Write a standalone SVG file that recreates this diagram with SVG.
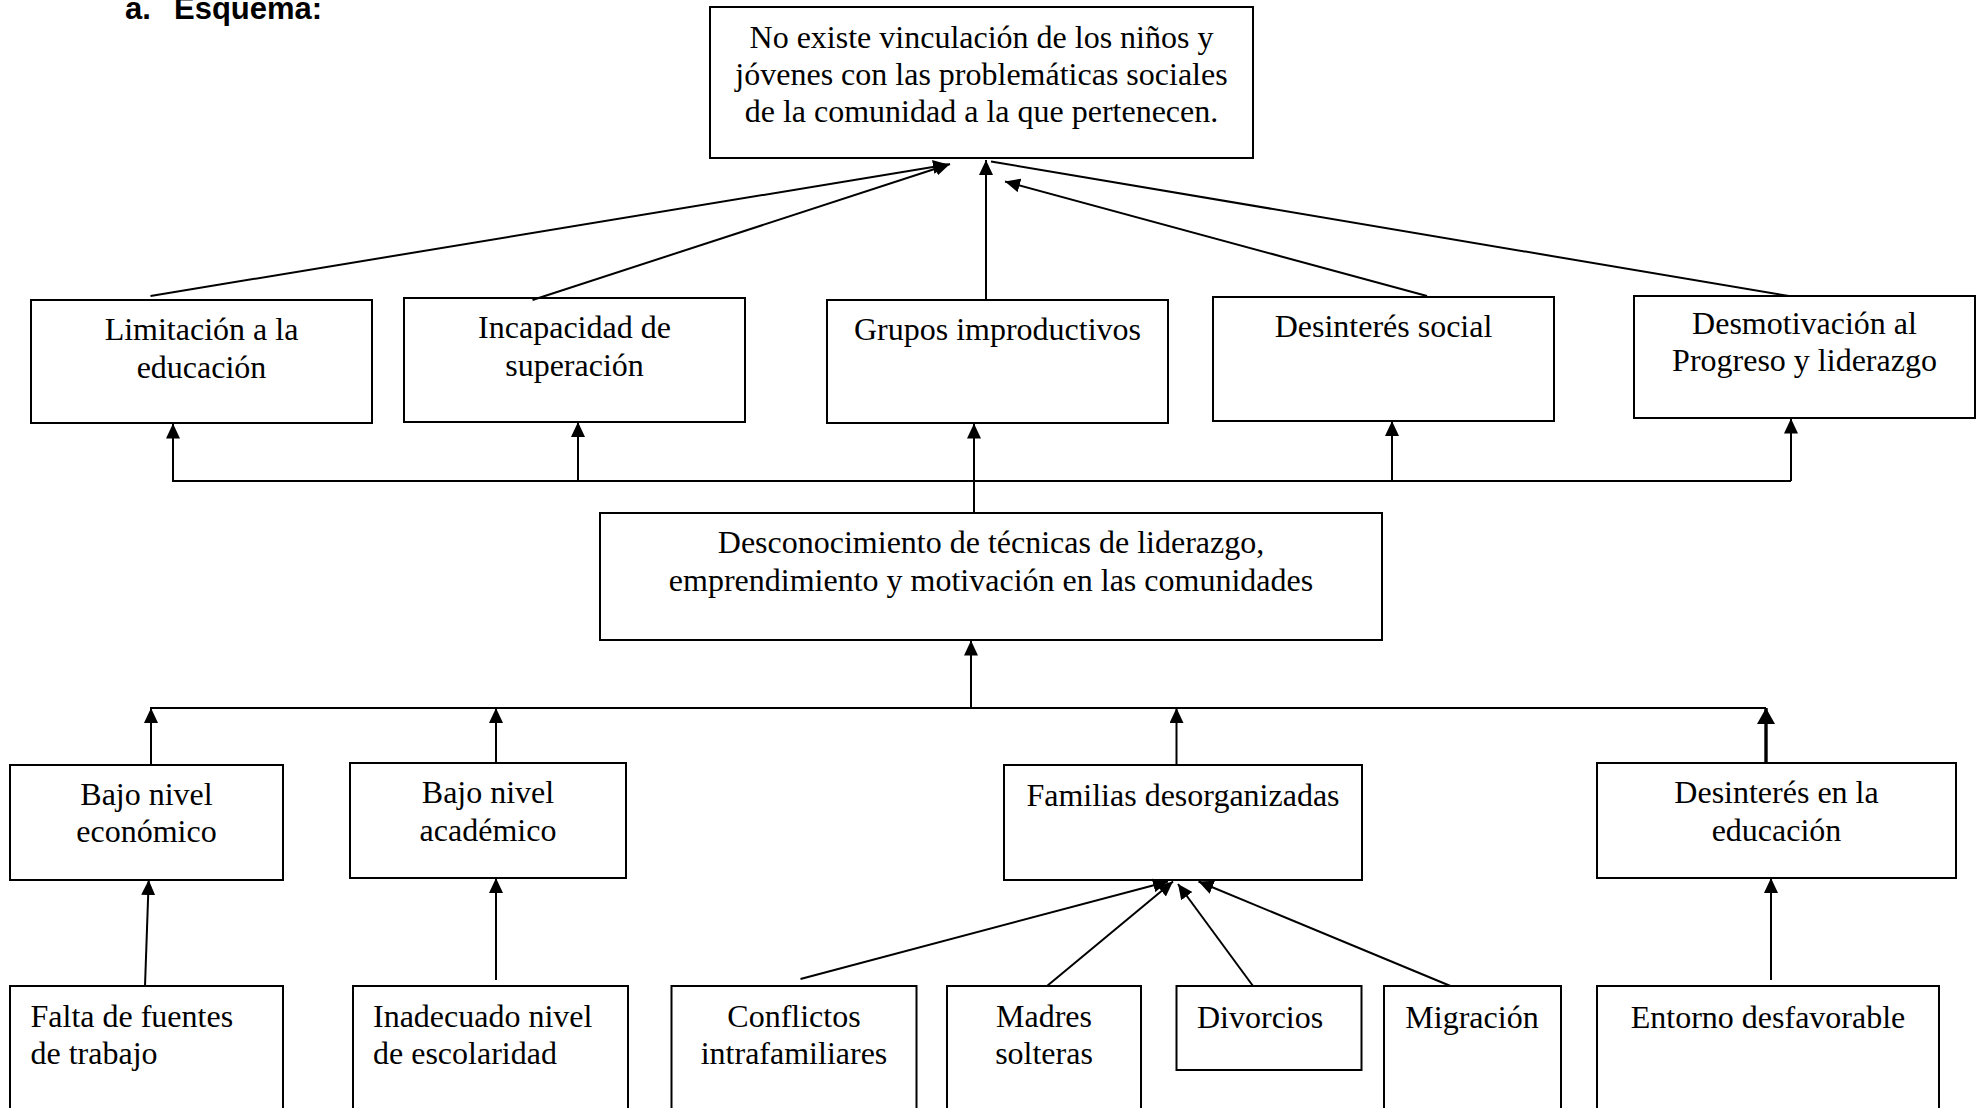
<svg xmlns="http://www.w3.org/2000/svg" width="1988" height="1108" viewBox="0 0 1988 1108">
  <defs>
    <style>
      .box { fill: #fff; stroke: #000; stroke-width: 2; }
      .t { font-family: "Liberation Serif", "Times New Roman", serif; font-size: 32px; fill: #000; }
      .c { text-anchor: middle; }
      .title { font-family: "Liberation Sans", Arial, sans-serif; font-size: 31px; font-weight: bold; fill: #000; }
      .conn { stroke: #000; stroke-width: 2; fill: none; }
      .arrow { marker-end: url(#ah); }
      .thick { stroke-width: 3.4; marker-end: url(#ahL); }
    </style>
    <marker id="ah" markerUnits="userSpaceOnUse" viewBox="0 0 15 14" markerWidth="15" markerHeight="14" refX="15" refY="7" orient="auto">
      <path d="M0,0 L15,7 L0,14 z" fill="#000"/>
    </marker>
    <marker id="ahL" markerUnits="userSpaceOnUse" viewBox="0 0 16 18" markerWidth="16" markerHeight="18" refX="16" refY="9" orient="auto">
      <path d="M0,0 L16,9 L0,18 z" fill="#000"/>
    </marker>
  </defs>
  <rect width="1988" height="1108" fill="#fff"/>

  <text class="title" x="125" y="19">a.<tspan x="174">Esquema:</tspan></text>

  <g id="n-top">
    <rect class="box" x="710" y="7" width="543" height="151"/>
    <text class="t c" x="981.5" y="48">No existe vinculación de los niños y</text>
    <text class="t c" x="981.5" y="85">jóvenes con las problemáticas sociales</text>
    <text class="t c" x="981.5" y="122">de la comunidad a la que pertenecen.</text>
  </g>

  <g id="n-limitacion">
    <rect class="box" x="31" y="300" width="341" height="123"/>
    <text class="t c" x="201.5" y="340">Limitación a la</text>
    <text class="t c" x="201.5" y="378">educación</text>
  </g>
  <g id="n-incapacidad">
    <rect class="box" x="404" y="298" width="341" height="124"/>
    <text class="t c" x="574.5" y="338">Incapacidad de</text>
    <text class="t c" x="574.5" y="376">superación</text>
  </g>
  <g id="n-grupos">
    <rect class="box" x="827" y="300" width="341" height="123"/>
    <text class="t c" x="997.5" y="340">Grupos improductivos</text>
  </g>
  <g id="n-desinteres-social">
    <rect class="box" x="1213" y="297" width="341" height="124"/>
    <text class="t c" x="1383.5" y="337">Desinterés social</text>
  </g>
  <g id="n-desmotivacion">
    <rect class="box" x="1634" y="296" width="341" height="122"/>
    <text class="t c" x="1804.5" y="334">Desmotivación al</text>
    <text class="t c" x="1804.5" y="371">Progreso y liderazgo</text>
  </g>

  <g id="n-desconocimiento">
    <rect class="box" x="600" y="513" width="782" height="127"/>
    <text class="t c" x="991" y="553">Desconocimiento de técnicas de liderazgo,</text>
    <text class="t c" x="991" y="591">emprendimiento y motivación en las comunidades</text>
  </g>

  <g id="n-bajo-economico">
    <rect class="box" x="10" y="765" width="273" height="115"/>
    <text class="t c" x="146.5" y="805">Bajo nivel</text>
    <text class="t c" x="146.5" y="842">económico</text>
  </g>
  <g id="n-bajo-academico">
    <rect class="box" x="350" y="763" width="276" height="115"/>
    <text class="t c" x="488" y="803">Bajo nivel</text>
    <text class="t c" x="488" y="841">académico</text>
  </g>
  <g id="n-familias">
    <rect class="box" x="1004" y="765" width="358" height="115"/>
    <text class="t c" x="1183" y="806">Familias desorganizadas</text>
  </g>
  <g id="n-desinteres-educacion">
    <rect class="box" x="1597" y="763" width="359" height="115"/>
    <text class="t c" x="1776.5" y="803">Desinterés en la</text>
    <text class="t c" x="1776.5" y="841">educación</text>
  </g>

  <g id="n-falta">
    <rect class="box" x="10" y="986" width="273" height="140"/>
    <text class="t" x="30.5" y="1027">Falta de fuentes</text>
    <text class="t" x="30.5" y="1064">de trabajo</text>
  </g>
  <g id="n-inadecuado">
    <rect class="box" x="353" y="986" width="275" height="140"/>
    <text class="t" x="373" y="1027">Inadecuado nivel</text>
    <text class="t" x="373" y="1064">de escolaridad</text>
  </g>
  <g id="n-conflictos">
    <rect class="box" x="671.5" y="986" width="245" height="140"/>
    <text class="t c" x="794" y="1027">Conflictos</text>
    <text class="t c" x="794" y="1064">intrafamiliares</text>
  </g>
  <g id="n-madres">
    <rect class="box" x="947" y="986" width="194" height="140"/>
    <text class="t c" x="1044" y="1027">Madres</text>
    <text class="t c" x="1044" y="1064">solteras</text>
  </g>
  <g id="n-divorcios">
    <rect class="box" x="1176.5" y="986" width="185" height="84"/>
    <text class="t" x="1197" y="1028">Divorcios</text>
  </g>
  <g id="n-migracion">
    <rect class="box" x="1384" y="986" width="177" height="140"/>
    <text class="t c" x="1472" y="1028">Migración</text>
  </g>
  <g id="n-entorno">
    <rect class="box" x="1597" y="986" width="342" height="140"/>
    <text class="t c" x="1768" y="1028">Entorno desfavorable</text>
  </g>

  <g id="connectors" class="conn">
    <path class="arrow" d="M150.5,296 L948,164.5"/>
    <path class="arrow" d="M532.5,300 L950,164"/>
    <path class="arrow" d="M986,300 L986,160"/>
    <path class="arrow" d="M1427,296 L1005,181.5"/>
    <path d="M1789,296 L991,161.5"/>

    <path d="M172,481 H1791"/>
    <path class="arrow" d="M173,481 V423.5"/>
    <path class="arrow" d="M578,481 V422"/>
    <path class="arrow" d="M974,513 V423.5"/>
    <path class="arrow" d="M1392,481 V421"/>
    <path class="arrow" d="M1791,481 V418.5"/>

    <path d="M150,708 H1766"/>
    <path class="arrow" d="M151,765 V708"/>
    <path class="arrow" d="M496,763 V708"/>
    <path class="arrow" d="M971,708 V640.5"/>
    <path class="arrow" d="M1176.5,765 V708"/>
    <path class="thick" d="M1766,763 V708"/>

    <path class="arrow" d="M145,986 L148.7,880"/>
    <path class="arrow" d="M496,980 V878"/>
    <path class="arrow" d="M800.5,979 L1168,881.5"/>
    <path class="arrow" d="M1047,986 L1173,881.5"/>
    <path class="arrow" d="M1253,986 L1178,884"/>
    <path class="arrow" d="M1450.5,986 L1198.5,881.5"/>
    <path class="arrow" d="M1771,980 V878"/>
  </g>
</svg>
